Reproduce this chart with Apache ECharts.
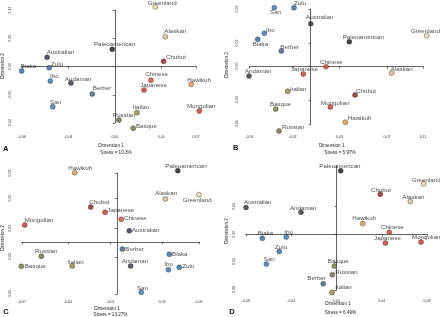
<!DOCTYPE html>
<html>
<head>
<meta charset="utf-8">
<script src="https://cdn.jsdelivr.net/npm/echarts@6/dist/echarts.min.js"></script>
<style>
  html, body { margin: 0; padding: 0; background: #fff; }
  #chart { width: 440px; height: 317px; }
</style>
</head>
<body>
<div id="chart"></div>
<script>
const populations = ['Greenland', 'Alaskan', 'Paleoamerican', 'Chubut', 'Chinese', 'Japanese', 'Hawikuh',
  'Mongolian', 'Italian', 'Russian', 'Basque', 'Berber', 'Andaman', 'Australian', 'Biaka', 'Zulu', 'Ibo', 'San'];

// MDS coordinates, same order as populations
const dim1A = [0.0349, 0.0435, -0.0022, 0.0421, 0.0312, 0.0252, 0.0659, 0.0728, 0.0191, 0.0036, 0.0159, -0.0194, -0.0378, -0.0584, -0.0803, -0.0565, -0.0556, -0.0535];
const dim2A = [0.127, 0.0633, 0.0365, 0.011, -0.0293, -0.0499, -0.0378, -0.0945, -0.0981, -0.1136, -0.1313, -0.0584, -0.035, 0.0195, -0.0096, -0.0026, -0.0308, -0.0854];
const dim1B = [0.1136, 0.0793, 0.0378, 0.0434, 0.015, -0.0073, 0.0339, 0.0192, -0.0226, -0.0311, -0.0343, -0.0288, -0.0605, 0.0, -0.052, -0.0164, -0.0455, -0.0357];
const dim2B = [0.0321, -0.0068, 0.0259, -0.0297, -0.0002, -0.0078, -0.0582, -0.0423, -0.0259, -0.0673, -0.0444, 0.0162, -0.0099, 0.0447, 0.0284, 0.0614, 0.0346, 0.0614];
const dim1C = [0.06, 0.0353, 0.0444, -0.0195, 0.0029, -0.009, -0.0313, -0.068, -0.0331, -0.0558, -0.0705, 0.0037, 0.0098, 0.0088, 0.0382, 0.0455, 0.0375, 0.0176];
const dim2C = [0.0549, 0.0499, 0.0827, 0.0406, 0.0264, 0.0345, 0.0803, 0.0198, -0.0276, -0.0164, -0.028, -0.008, -0.0276, 0.0132, -0.0141, -0.0291, -0.0319, -0.0581];
const dim1D = [0.0771, 0.0653, 0.0037, 0.0387, 0.0467, 0.0432, 0.0232, 0.0747, -0.004, -0.0037, -0.0019, -0.0117, -0.0314, -0.08, -0.0656, -0.0506, -0.0444, -0.062];
const dim2D = [0.0724, 0.047, 0.0911, 0.0576, 0.0029, -0.0125, 0.0154, -0.0111, -0.0835, -0.058, -0.0456, -0.0709, 0.0317, 0.0384, -0.0058, -0.0249, -0.0039, -0.0427];

const stressLabels = ['Stress = 10.3%', 'Stress = 5.97%', 'Stress = 13.27%', 'Stress = 6.49%'];

// tick positions
const ticksXA = [-0.08, -0.04, 0.0, 0.04, 0.07];
const ticksYA = [-0.12, -0.06, 0.0, 0.06, 0.12];
const ticksXB = [-0.06, -0.0178, 0.0284, 0.0746, 0.11];
const ticksYB = [-0.06, -0.035, 0.0005, 0.0245, 0.06];
const ticksXC = [-0.07, -0.0362, -0.005, 0.0328, 0.06];
const ticksYC = [-0.06, -0.0172, 0.016, 0.051, 0.08];
const ticksXD = [-0.08, -0.04, 0.0, 0.04, 0.08];
const ticksYD = [-0.08, -0.04, 0.0, 0.04];

const popColor = {
  Greenland: '#e8d6ae', Alaskan: '#d8b98c', Paleoamerican: '#111111', Chubut: '#8b1c1c',
  Chinese: '#d4472f', Japanese: '#cc3329', Hawikuh: '#e39547', Mongolian: '#c8302a',
  Italian: '#8e8b3d', Russian: '#6e6a3e', Basque: '#6f7a3a', Berber: '#3f5f7f',
  Andaman: '#2f3440', Australian: '#2a2f3a', Biaka: '#2f6aa3', Zulu: '#2f6aa3',
  Ibo: '#3a76b3', San: '#3a76b3'
};

// label nudges (px from point), same order as populations
const nudgeA = [[-7.6,-3.4],[-1,-5.7],[-18.3,-5],[2.3,-4],[-5.7,-5.6],[-4,-4.3],[-4,-4.3],[-12.3,-4.3],[-4.3,-5.7],[-6.3,-4.3],[2.7,-2.3],[0.4,-5.3],[-6,-4],[-0.3,-4.6],[-1,-4.3],[1.7,-3.4],[-0.3,-4.3],[-2.7,-4]];
const nudgeB = [[-15.7,-4.7],[-1,-4],[-6.6,-4.7],[1,-3.7],[-6,-4.4],[-12.3,-4.7],[2.4,-4.3],[-9.3,-3.7],[2.3,-2.3],[3,-3.7],[-5.7,-4.7],[-1,-4],[-4,-4.7],[-4.7,-6],[-5,5],[0,-4.4],[1.7,-3.3],[-4.3,5]];
const nudgeC = [[-16.3,5.3],[-10.3,-5.7],[-12.4,-4.4],[-1.4,-4.7],[2.7,-1.3],[2.3,-1.6],[-6.4,-4.4],[0,-4.3],[-5,-3.7],[-6.3,-4.6],[3.4,0],[3,0],[-9,-4.3],[2.7,0],[2.7,0],[3,-0.6],[-4,-5.7],[-4.3,-4.3]];
const nudgeD = [[-12,-4],[-8,-4.3],[-21.4,-4.4],[-9.3,-4.3],[-8.3,-4.7],[-11.3,-4.4],[-10.4,-5],[-9,-4.4],[3.3,-4.7],[3,-2.6],[-6.6,-4.7],[-16,-5],[-11,-4.3],[-2,-5],[-4.6,-4.7],[-4.3,-4.6],[-2,-4.7],[-2.6,-5]];

const FONT = '"Liberation Sans", Arial, sans-serif';

const panels = [
  { letter: 'A', d1: dim1A, d2: dim2A, nudge: nudgeA, tx: ticksXA, ty: ticksYA, yMax: 0.12,
    grid: { left: 22, top: 10, width: 174, height: 113 }, xOff: 10, yOff: 7,
    dim1: [111, 146], stress: [116, 152.3], dim2: [2.7, 66], tag: [3, 149] },
  { letter: 'B', d1: dim1B, d2: dim2B, nudge: nudgeB, tx: ticksXB, ty: ticksYB, yMax: 0.06,
    grid: { left: 249.5, top: 9, width: 173.5, height: 115 }, xOff: 9, yOff: 7.5,
    dim1: [331.7, 145.7], stress: [340, 152.3], dim2: [226.7, 65], tag: [233, 148] },
  { letter: 'C', d1: dim1C, d2: dim2C, nudge: nudgeC, tx: ticksXC, ty: ticksYC, yMax: 0.08,
    grid: { left: 22, top: 173, width: 177, height: 121 }, xOff: 4, yOff: 7,
    dim1: [107, 308.7], stress: [110.5, 315], dim2: [2.7, 238], tag: [3.3, 312] },
  { letter: 'D', d1: dim1D, d2: dim2D, nudge: nudgeD, tx: ticksXD, ty: ticksYD, yMax: 0.098,
    grid: { left: 246, top: 166, width: 181, height: 124 }, xOff: 7, yOff: 7.7,
    dim1: [338, 303.7], stress: [340.5, 312.3], dim2: [226.7, 231], tag: [229.3, 312] }
];

const axisCommon = {
  axisLine: { show: true, lineStyle: { color: '#222', width: 0.7 } },
  axisTick: { show: true, inside: false, length: 2, lineStyle: { color: '#222', width: 0.7 } },
  splitLine: { show: false },
  axisLabel: { fontSize: 3.5, color: '#333', fontFamily: FONT, margin: 2.5,
    formatter: v => v.toFixed(2) }
};

const grids = [], xAxes = [], yAxes = [], series = [], graphics = [];

panels.forEach((p, i) => {
  grids.push(Object.assign({ containLabel: false }, p.grid));
  xAxes.push({
    ...axisCommon, type: 'value', gridIndex: i, min: p.tx[0], max: p.tx[p.tx.length - 1],
    offset: p.xOff,
    axisTick: { ...axisCommon.axisTick, customValues: p.tx },
    axisLabel: { ...axisCommon.axisLabel, customValues: p.tx }
  });
  yAxes.push({
    ...axisCommon, type: 'value', gridIndex: i, min: p.ty[0], max: p.yMax,
    offset: p.yOff,
    axisTick: { ...axisCommon.axisTick, customValues: p.ty },
    axisLabel: { ...axisCommon.axisLabel, customValues: p.ty, rotate: 90 }
  });
  series.push({
    type: 'scatter', xAxisIndex: i, yAxisIndex: i, clip: false,
    symbolSize: 5,
    data: populations.map((name, k) => ({
      name,
      value: [p.d1[k], p.d2[k]],
      itemStyle: { color: popColor[name] },
      label: { offset: p.nudge[k] }
    })),
    itemStyle: { borderColor: '#333', borderWidth: 0.5 },
    label: {
      show: true, position: 'inside', align: 'left', verticalAlign: 'middle',
      formatter: '{b}', fontSize: 6.2, color: '#1a1a1a', fontFamily: FONT
    },
    emphasis: { disabled: true }
  });
  graphics.push(
    { type: 'text', x: p.dim1[0], y: p.dim1[1],
      style: { text: 'Dimension 1', fontSize: 4.6, fill: '#222', fontFamily: FONT, align: 'center', verticalAlign: 'middle' } },
    { type: 'text', x: p.stress[0], y: p.stress[1],
      style: { text: stressLabels[i], fontSize: 4.6, fill: '#222', fontFamily: FONT, align: 'center', verticalAlign: 'middle' } },
    { type: 'text', x: p.dim2[0], y: p.dim2[1], rotation: Math.PI / 2,
      style: { text: 'Dimension 2', fontSize: 4.6, fill: '#222', fontFamily: FONT, align: 'center', verticalAlign: 'middle' } },
    { type: 'text', x: p.tag[0], y: p.tag[1],
      style: { text: p.letter, fontSize: 7.5, fontWeight: 'bold', fill: '#111', fontFamily: FONT, align: 'left', verticalAlign: 'middle' } }
  );
});

const chart = echarts.init(document.getElementById('chart'), null, { renderer: 'canvas' });
chart.setOption({
  backgroundColor: '#fff',
  animation: false,
  grid: grids,
  xAxis: xAxes,
  yAxis: yAxes,
  series,
  graphic: graphics
});
</script>
</body>
</html>
